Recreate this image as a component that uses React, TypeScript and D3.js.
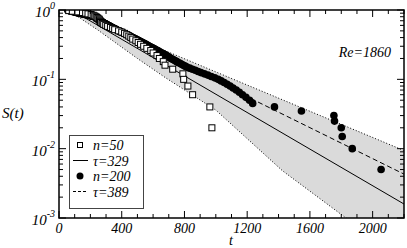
import React, { useEffect, useRef } from 'react';
import * as d3 from 'd3';

// decay times of the n=50 run, ordered; S = 1 - i/50
const tN50 = [62, 85, 120, 150, 170, 185, 205, 218, 228, 236,
  242, 248, 255, 258, 262, 265, 268, 276, 285, 298,
  310, 328, 342, 355, 380, 400, 418, 432, 445, 458,
  470, 490, 505, 520, 540, 560, 585, 600, 625, 640,
  665, 676, 725, 790, 795, 822, 852, 962, 975];

// decay times of the n=200 run, ordered; S = 1 - i/200
const tN200 = [56, 60, 63, 66, 70, 73, 77, 81, 85, 90,
  94, 98, 101, 105, 109, 113, 117, 121, 125, 130,
  134, 139, 144, 149, 154, 159, 164, 169, 174, 180,
  185, 190, 195, 200, 205, 210, 214, 219, 223, 228,
  230, 232, 235, 237, 239, 241, 243, 245, 248, 250,
  251, 252, 253, 254, 255, 256, 258, 259, 260, 262,
  264, 266, 269, 271, 273, 275, 277, 280, 282, 285,
  288, 290, 293, 296, 298, 301, 304, 306, 309, 312,
  315, 319, 322, 325, 329, 332, 335, 338, 342, 345,
  348, 352, 355, 359, 362, 366, 369, 373, 376, 380,
  384, 389, 393, 398, 402, 407, 411, 416, 420, 425,
  429, 434, 438, 443, 447, 452, 456, 461, 465, 470,
  475, 480, 485, 490, 495, 500, 505, 510, 515, 520,
  526, 531, 537, 542, 548, 553, 559, 564, 570, 575,
  582, 588, 595, 601, 608, 614, 621, 627, 634, 640,
  647, 655, 662, 670, 677, 685, 692, 700, 707, 715,
  724, 733, 742, 751, 760, 771, 782, 793, 804, 815,
  833, 851, 869, 887, 905, 927, 949, 971, 993, 1015,
  1034, 1053, 1072, 1091, 1110, 1130, 1150, 1170, 1192, 1215,
  1235, 1374, 1546, 1753, 1757, 1800, 1806, 1870, 2054];

// grey band
const bandT = [57, 250, 500, 675, 1000, 1425, 1830, 2200];
const bandLo = [1, 0.51, 0.2, 0.107, 0.036, 0.0048, 0.001, 0.00025];
const bandHi = [1, 0.657, 0.38, 0.26, 0.128, 0.0507, 0.021, 0.0094];

const tauFits = [329, 389];
const fitT0 = 80;
const legendLabels = ['n=50', 'τ=329', 'n=200', 'τ=389'];
const xTicks = [0, 400, 800, 1200, 1600, 2000];
const yDecades = [-3, -2, -1, 0];

const W = 407;
const H = 248;
const FONT = '"Liberation Serif", "Times New Roman", "DejaVu Serif", serif';

export default function App() {
  const svgRef = useRef<SVGSVGElement>(null);

  useEffect(() => {
    if (!svgRef.current) return;
    const svg = d3.select(svgRef.current);
    svg.selectAll('*').remove();

    const x = d3.scaleLinear().domain([0, 2200]).range([59, 404]);
    const y = d3.scaleLog().domain([1e-3, 1]).range([218, 10]);
    const [x0, x1] = x.range();
    const [y0, y1] = y.range();

    svg.append('defs').append('clipPath').attr('id', 'plot')
      .append('rect').attr('x', x0).attr('y', y1).attr('width', x1 - x0).attr('height', y0 - y1);

    const g = svg.append('g').attr('clip-path', 'url(#plot)');

    // band
    const band = bandT.map((t, i) => ({ t, lo: bandLo[i], hi: bandHi[i] }));
    g.append('path')
      .attr('d', d3.area<any>().x(d => x(d.t)).y0(d => y(d.lo)).y1(d => y(d.hi))(band))
      .attr('fill', '#dadada');
    ['lo', 'hi'].forEach(k => {
      g.append('path')
        .attr('d', d3.line<any>().x(d => x(d.t)).y(d => y(d[k]))(band))
        .attr('fill', 'none').attr('stroke', '#000').attr('stroke-width', 1)
        .attr('stroke-dasharray', '1,2');
    });

    // exponential fits
    tauFits.forEach((tau, i) => {
      const pts = [fitT0, 2200].map(t => ({ t, s: Math.exp(-(t - fitT0) / tau) }));
      g.append('path')
        .attr('d', d3.line<any>().x(d => x(d.t)).y(d => y(d.s))(pts))
        .attr('fill', 'none').attr('stroke', '#000').attr('stroke-width', 1)
        .attr('stroke-dasharray', i === 0 ? null : '5,3');
    });

    // n=200 circles
    g.selectAll('circle.n200').data(tN200).enter().append('circle')
      .attr('cx', d => x(d)).attr('cy', (d, i) => y(1 - (i + 1) / 200))
      .attr('r', 3.8).attr('fill', '#000');

    // n=50 squares
    const sq = 6;
    g.selectAll('rect.n50').data(tN50).enter().append('rect')
      .attr('x', d => x(d) - sq / 2).attr('y', (d, i) => y(1 - (i + 1) / 50) - sq / 2)
      .attr('width', sq).attr('height', sq)
      .attr('fill', '#fff').attr('stroke', '#000').attr('stroke-width', 1);

    // ticks
    const ax = svg.append('g').attr('stroke', '#000').attr('stroke-width', 1);
    d3.range(0, 2201, 100).forEach(t => {
      const len = t % 400 === 0 ? 7 : 4;
      const px = x(t);
      ax.append('line').attr('x1', px).attr('x2', px).attr('y1', y0).attr('y2', y0 - len);
      ax.append('line').attr('x1', px).attr('x2', px).attr('y1', y1).attr('y2', y1 + len);
    });
    yDecades.forEach(e => {
      const mults = e < 0 ? d3.range(1, 10) : [1];
      mults.forEach(m => {
        const py = y(m * Math.pow(10, e));
        const len = m === 1 ? 7 : 4;
        ax.append('line').attr('x1', x0).attr('x2', x0 + len).attr('y1', py).attr('y2', py);
        ax.append('line').attr('x1', x1).attr('x2', x1 - len).attr('y1', py).attr('y2', py);
      });
    });

    // frame
    svg.append('rect').attr('x', x0).attr('y', y1).attr('width', x1 - x0).attr('height', y0 - y1)
      .attr('fill', 'none').attr('stroke', '#000').attr('stroke-width', 1.5);

    const txt = svg.append('g').style('font-family', FONT).style('font-style', 'italic').attr('fill', '#000');

    xTicks.forEach(t => {
      txt.append('text').attr('x', x(t)).attr('y', 233).attr('text-anchor', 'middle')
        .attr('font-size', 14).text(t);
    });
    yDecades.forEach(e => {
      const t = txt.append('text').attr('x', 55).attr('y', y(Math.pow(10, e)) + 7)
        .attr('text-anchor', 'end').attr('font-size', 15);
      t.append('tspan').text('10');
      t.append('tspan').attr('dy', -8).attr('font-size', 10).text(String(e));
    });

    txt.append('text').attr('x', 231).attr('y', 245).attr('text-anchor', 'middle')
      .attr('font-size', 14).text('t');
    txt.append('text').attr('x', 2).attr('y', 118).attr('font-size', 15).text('S(t)');
    txt.append('text').attr('x', 391).attr('y', 57).attr('text-anchor', 'end')
      .attr('font-size', 14).text('Re=1860');

    // legend
    const lg = svg.append('g');
    lg.append('rect').attr('x', 69.5).attr('y', 135.5).attr('width', 74).attr('height', 73)
      .attr('fill', '#fff').attr('stroke', '#444').attr('stroke-width', 1);
    legendLabels.forEach((label, i) => {
      const cy = 145 + i * 15.5;
      if (i === 0) {
        lg.append('rect').attr('x', 77.5).attr('y', cy - 2.5).attr('width', 5).attr('height', 5)
          .attr('fill', '#fff').attr('stroke', '#000');
      } else if (i === 2) {
        lg.append('circle').attr('cx', 80).attr('cy', cy).attr('r', 3.5).attr('fill', '#000');
      } else {
        lg.append('line').attr('x1', 73).attr('x2', 88).attr('y1', cy).attr('y2', cy)
          .attr('stroke', '#000').attr('stroke-width', 1)
          .attr('stroke-dasharray', i === 3 ? '3,2' : null);
      }
      lg.append('text').attr('x', 93).attr('y', cy + 5).style('font-family', FONT)
        .style('font-style', 'italic').attr('font-size', 14).text(label);
    });
  }, []);

  return (
    <svg ref={svgRef} width={W} height={H} viewBox={`0 0 ${W} ${H}`}
      style={{ position: 'absolute', left: 0, top: 0, background: '#fff' }} />
  );
}
